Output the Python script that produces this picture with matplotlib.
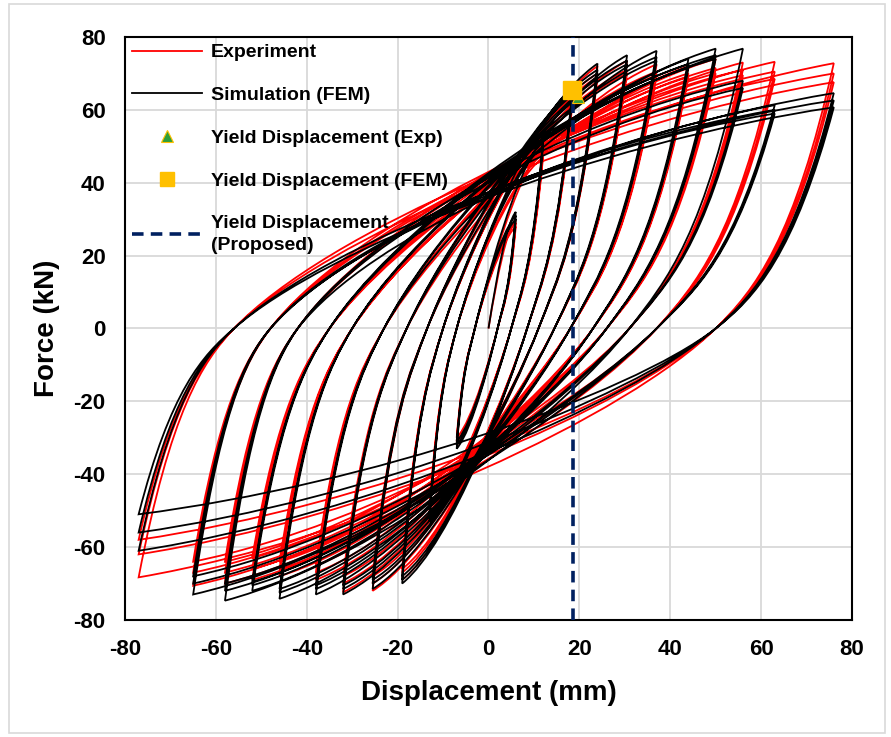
import numpy as np
import matplotlib
matplotlib.use("Agg")
import matplotlib.pyplot as plt
from matplotlib.path import Path
from matplotlib.patches import PathPatch, Rectangle
from matplotlib.lines import Line2D

plt.rcParams['font.family'] = ['Liberation Sans', 'DejaVu Sans']
plt.rcParams['font.weight'] = 'bold'
plt.rcParams['axes.unicode_minus'] = False

# reversal displacements per loading level (mm)
disp_pos = [6, 12, 18.5, 24, 30.5, 37, 44, 50, 56, 63, 76]
disp_neg = [-7, -13, -19, -25.5, -32, -38, -46, -52, -58, -65, -77]

# distance from reversal to the zero-force crossing (mm)
width_pos = [4, 7, 10, 13, 16, 19, 21, 24, 25, 26, 26]
width_neg = [4, 6, 9, 12, 14, 15, 16, 17, 16, 17, 21]

# peak forces (kN), three cycles per level
exp_fpos = [[30, 29, 28], [50, 48, 47], [65, 63, 62], [72, 70, 69],
            [73.5, 71, 70], [72.5, 70.5, 69.5], [72, 70, 69], [74, 71.5, 70],
            [73, 71, 69.5], [73.2, 70.5, 68.5], [72.8, 70, 67.6]]
exp_fneg = [[-32, -31, -30], [-52, -50, -49], [-69, -67, -66], [-72, -70, -68],
            [-72.4, -70, -68], [-69, -67, -65], [-68, -66, -64], [-69, -66, -63],
            [-70, -67, -64], [-70.6, -67, -64], [-68.3, -62, -58]]
fem_fpos = [[32, 31, 30], [52, 51, 50], [66, 65, 64], [72.7, 71, 70],
            [75, 73.5, 72.5], [76.2, 74.5, 73.5], [74, 72.5, 71.5], [76.8, 75, 74],
            [76.8, 68, 66], [61.3, 60, 59], [64.6, 62.6, 60.7]]
fem_fneg = [[-33, -32, -31], [-53, -52, -51], [-70, -69, -68], [-71.5, -70, -69],
            [-73, -71.5, -70.5], [-73, -71.5, -70.5], [-74.2, -72.5, -71.5], [-72, -70.5, -69.5],
            [-74.7, -72, -70], [-73, -70, -68], [-61, -56, -51]]

yield_exp = (19.8, 63.5)
yield_fem = (18.3, 65.5)
yield_proposed = 18.7


def branch(A, B, w, last=False):
    sgn = 1 if A[0] > B[0] else -1
    x0 = A[0] - sgn * w
    c1 = abs(A[1]) / w
    c2 = abs(B[1]) / abs(x0 - B[0])
    sA, s0, sB = 2 * c1, np.sqrt(c1 * c2), 0.4 * c2
    h1 = w / 3
    pts = [(A[0] - sgn * h1, A[1] - sgn * h1 * sA),
           (x0 + sgn * h1, sgn * h1 * s0),
           (x0, 0)]
    if last:
        return pts
    h2 = abs(x0 - B[0])
    pts += [(x0 - sgn * 0.15 * h2, -sgn * 0.15 * h2 * s0),
            (B[0] + sgn * h2 * 0.4, B[1] + sgn * h2 * 0.4 * sB),
            B]
    return pts


def hysteresis_path(fpos, fneg):
    peaks = []
    for i in range(len(disp_pos)):
        for j in range(3):
            peaks.append(((disp_pos[i], fpos[i][j]), (disp_neg[i], fneg[i][j]), i))
    p0 = peaks[0][0]
    verts = [(0, 0), (p0[0] / 3, p0[1] / 2), (2 * p0[0] / 3, p0[1] * 0.9), p0]
    codes = [Path.MOVETO] + [Path.CURVE4] * 3
    for k, (pp, pn, i) in enumerate(peaks):
        seg = branch(pp, pn, width_pos[i])
        verts += seg
        codes += [Path.CURVE4] * len(seg)
        if k + 1 < len(peaks):
            seg = branch(pn, peaks[k + 1][0], width_neg[i])
        else:
            seg = branch(pn, (disp_pos[-1], fpos[-1][-1]), width_neg[i], last=True)
        verts += seg
        codes += [Path.CURVE4] * len(seg)
    return Path(verts, codes)


fig = plt.figure(figsize=(8.91, 7.37), dpi=100)
fig.patches.append(Rectangle((0.010, 0.006), 0.983, 0.989, transform=fig.transFigure,
                             fill=False, edgecolor='#d9d9d9', lw=1.2))
ax = fig.add_axes([0.1403, 0.1588, 0.8159, 0.791])

ax.add_patch(PathPatch(hysteresis_path(exp_fpos, exp_fneg), fill=False,
                       edgecolor='#ff0000', lw=1.3, zorder=2))
ax.add_patch(PathPatch(hysteresis_path(fem_fpos, fem_fneg), fill=False,
                       edgecolor='black', lw=1.3, zorder=3))

ax.axvline(yield_proposed, color='#002060', lw=2.6, ls=(0, (3.2, 2)), zorder=4)
ax.plot(*yield_exp, marker='^', ms=9, color='#2e9e3a', mec='#ffc000', mew=0.8, ls='none', zorder=5)
ax.plot(*yield_fem, marker='s', ms=13, color='#ffc000', ls='none', zorder=6)

ax.set_xlim(-80, 80)
ax.set_ylim(-80, 80)
ax.set_xticks(np.arange(-80, 81, 20))
ax.set_yticks(np.arange(-80, 81, 20))
ax.grid(True, color='#d9d9d9', lw=1.3)
ax.set_axisbelow(True)
ax.tick_params(length=0, labelsize=16)
ax.tick_params(axis='x', pad=14)
ax.tick_params(axis='y', pad=14)
for lab in ax.get_xticklabels() + ax.get_yticklabels():
    lab.set_fontweight('bold')
for sp in ax.spines.values():
    sp.set_linewidth(1.5)

ax.set_xlabel('Displacement (mm)', fontsize=20, fontweight='bold', labelpad=14)
ax.set_ylabel('Force (kN)', fontsize=20, fontweight='bold', labelpad=10)

handles = [Line2D([], [], color='#ff0000', lw=1.3),
           Line2D([], [], color='black', lw=1.3),
           Line2D([], [], marker='^', ms=9, color='#2e9e3a', mec='#ffc000', mew=0.8, ls='none'),
           Line2D([], [], marker='s', ms=10, color='#ffc000', ls='none'),
           Line2D([], [], color='#002060', lw=2.6, ls=(0, (3.2, 2)))]
labels = ['Experiment', 'Simulation (FEM)', 'Yield Displacement (Exp)',
          'Yield Displacement (FEM)', 'Yield Displacement\n(Proposed)']
leg = ax.legend(handles, labels, loc='upper left', frameon=False,
                handlelength=3.6, handletextpad=0.45, labelspacing=1.3,
                borderaxespad=0.1, borderpad=0.25,
                prop={'weight': 'bold', 'size': 14})
for t in leg.get_texts():
    t.set_linespacing(1.35)

fig.savefig('out.png', dpi=100)
